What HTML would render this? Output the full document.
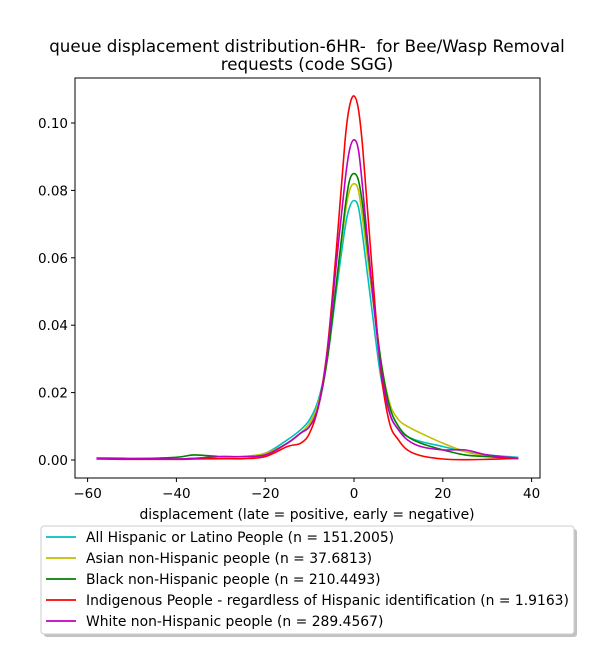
<!DOCTYPE html>
<html><head><meta charset="utf-8"><style>
body{margin:0;background:#fff;font-family:"Liberation Sans","DejaVu Sans",sans-serif}
svg text{font-family:"DejaVu Sans","Liberation Sans",sans-serif;white-space:pre}
</style></head><body>
<svg id="chart" width="600" height="650">
<rect width="600" height="650" fill="#fff"/>
<text x="307" y="52" text-anchor="middle" font-size="16.7">queue displacement distribution-6HR-  for Bee/Wasp Removal</text>
<text x="307" y="70" text-anchor="middle" font-size="16.7">requests (code SGG)</text>
<g id="marks"></g>
<rect x="75" y="78" width="465" height="400" fill="none" stroke="#000" stroke-width="1"/>
<g id="axes"></g>
<text x="307" y="519" text-anchor="middle" font-size="13.9">displacement (late = positive, early = negative)</text>
<g>
<rect x="44" y="529" width="533" height="108" rx="3" fill="#999" opacity="0.6"/>
<rect x="41" y="526" width="533" height="108" rx="3" fill="#fff" stroke="#ccc"/>
<g id="legend-items"></g>
</g>
</svg>
<script>
const xs=[-58,-50,-40,-36,-30,-25,-20,-15,-12,-10,-8,-6,-4,-2,-1,0,1,2,4,6,8,10,12,15,20,25,30,37];
const seriesNames=["All Hispanic or Latino People (n = 151.2005)","Asian non-Hispanic people (n = 37.6813)","Black non-Hispanic people (n = 210.4493)","Indigenous People - regardless of Hispanic identification (n = 1.9163)","White non-Hispanic people (n = 289.4567)"];
const seriesColors=["#00bfbf","#bfbf00","#008000","#ff0000","#bf00bf"];
const hispanic=[0.0006,0.0005,0.0003,0.0005,0.001,0.001,0.002,0.006,0.009,0.012,0.018,0.03,0.05,0.069,0.075,0.077,0.075,0.066,0.045,0.025,0.014,0.009,0.007,0.0055,0.004,0.0025,0.0015,0.0008];
const asian=[0.0006,0.0005,0.0003,0.0005,0.001,0.001,0.002,0.005,0.008,0.011,0.017,0.03,0.052,0.073,0.08,0.082,0.08,0.071,0.05,0.03,0.017,0.012,0.01,0.008,0.005,0.0025,0.0012,0.0006];
const black=[0.0005,0.0004,0.0008,0.0015,0.001,0.001,0.0015,0.005,0.008,0.01,0.016,0.03,0.052,0.075,0.083,0.085,0.083,0.075,0.052,0.03,0.016,0.01,0.007,0.005,0.003,0.0015,0.001,0.0004];
const indigenous=[0.0003,0.0002,0.0002,0.0003,0.0004,0.0004,0.001,0.004,0.005,0.008,0.016,0.033,0.062,0.095,0.105,0.108,0.104,0.092,0.058,0.027,0.011,0.006,0.003,0.0013,0.0003,0.0001,0.0002,0.0005];
const white=[0.0005,0.0004,0.0003,0.0005,0.001,0.001,0.0015,0.005,0.008,0.01,0.016,0.032,0.058,0.083,0.092,0.095,0.092,0.08,0.052,0.028,0.014,0.009,0.006,0.004,0.003,0.003,0.0015,0.0005];
const allSeries=[hispanic,asian,black,indigenous,white];
const xTicks=[-60,-40,-20,0,20,40];
const yTicks=[0,0.02,0.04,0.06,0.08,0.10];
const yTickLabels=["0.00","0.02","0.04","0.06","0.08","0.10"];
const X=v=>354+(v*4.44);
const Y=v=>460-(v*3370);
const NS="http://www.w3.org/2000/svg";
const marks=document.getElementById('marks'),axes=document.getElementById('axes'),leg=document.getElementById('legend-items');
function mk(t,a,p){const e=document.createElementNS(NS,t);for(const k in a)e.setAttribute(k,a[k]);p.appendChild(e);return e;}
function pathFor(ys){const P=xs.map((x,i)=>[X(x),Y(ys[i])]);let d="M"+P[0][0]+","+P[0][1];
for(let i=0;i<P.length-1;i++){const p0=P[i-1]||P[i],p1=P[i],p2=P[i+1],p3=P[i+2]||P[i+1];
d+=" C"+(p1[0]+(p2[0]-p0[0])/6)+","+(p1[1]+(p2[1]-p0[1])/6)+" "+(p2[0]-(p3[0]-p1[0])/6)+","+(p2[1]-(p3[1]-p1[1])/6)+" "+p2[0]+","+p2[1];}return d;}
allSeries.forEach((ys,i)=>{
const p=mk('path',{d:pathFor(ys),fill:'none',stroke:seriesColors[i],'stroke-width':1.6},marks);


const ly=537+i*21;
const l=mk('line',{x1:46,x2:76,y1:ly,y2:ly,stroke:seriesColors[i],'stroke-width':1.8},leg);


const t=mk('text',{x:86,y:ly+5,'font-size':13.9},leg);t.textContent=seriesNames[i];


});
xTicks.forEach(v=>{mk('line',{x1:X(v),x2:X(v),y1:478,y2:482,stroke:'#000'},axes);
const t=mk('text',{x:X(v),y:498,'text-anchor':'middle','font-size':13.5},axes);t.textContent=v<0?'\u2212'+(-v):v;

});
yTicks.forEach((v,i)=>{mk('line',{x1:71,x2:75,y1:Y(v),y2:Y(v),stroke:'#000'},axes);
const t=mk('text',{x:68,y:Y(v)+5,'text-anchor':'end','font-size':13.5},axes);t.textContent=yTickLabels[i];

});
</script>
</body></html>
